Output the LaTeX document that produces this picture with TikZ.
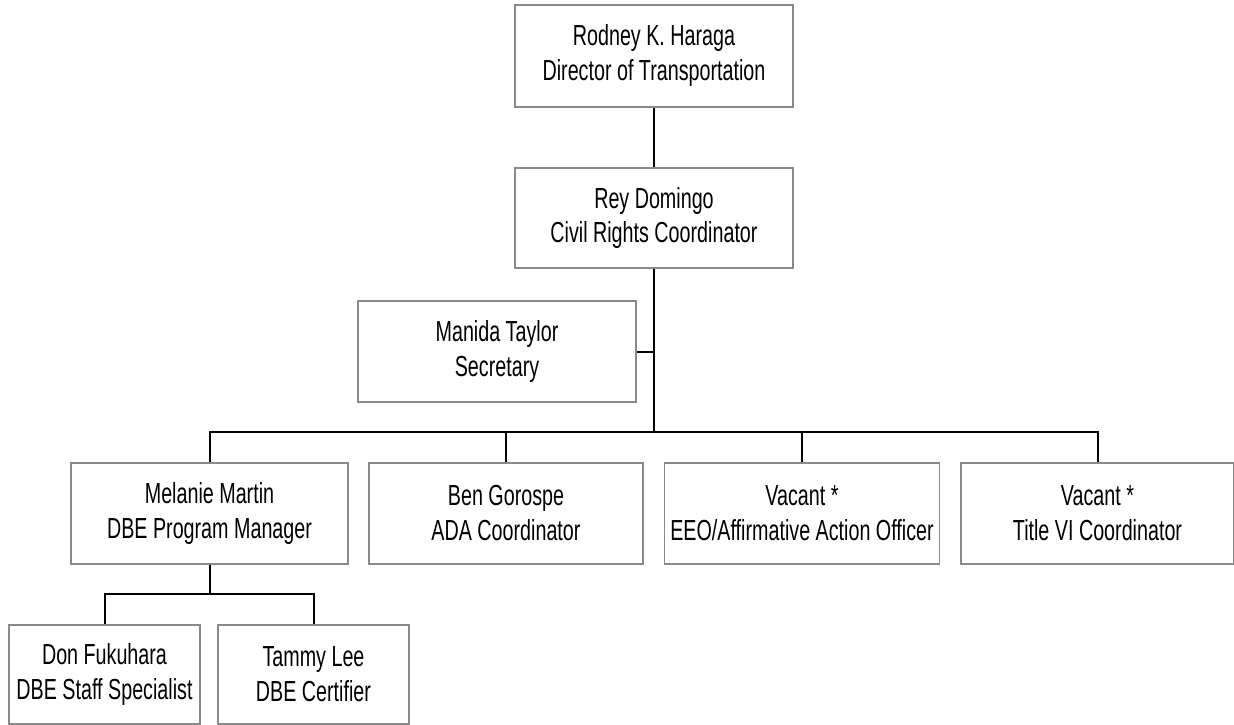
\documentclass[tikz,border=0pt]{standalone}
\usepackage{fontspec}
\setmainfont{Liberation Sans}[FakeStretch=0.68]
\definecolor{boxgray}{HTML}{8A8A8A}
\begin{document}
\begin{tikzpicture}[x=1pt,y=-1pt,
  box/.style={draw=boxgray, line width=1.8pt, minimum height=101pt, inner sep=0pt, align=center, font=\fontsize{29}{35}\selectfont},
  conn/.style={line width=2pt, black}]
\useasboundingbox (0,0) rectangle (1234,725);
\node[box, minimum width=278pt, minimum height=102pt] (top) at (654,56) {Rodney K. Haraga\\Director of Transportation};
\node[box, minimum width=278pt, minimum height=100pt] (crc) at (654,218) {Rey Domingo\\Civil Rights Coordinator};
\node[box, minimum width=278pt] (sec) at (497,351.5) {Manida Taylor\\Secretary};
\node[box, minimum width=277pt] (mm) at (209.5,513.5) {Melanie Martin\\DBE Program Manager};
\node[box, minimum width=274pt] (bg) at (506,513.5) {Ben Gorospe\\ADA Coordinator};
\node[box, minimum width=275pt] (v1) at (802,513.5) {Vacant *\\EEO/Affirmative Action Officer};
\node[box, minimum width=273pt] (v2) at (1097.5,513.5) {Vacant *\\Title VI Coordinator};
\node[box, minimum width=191pt, minimum height=99pt] (don) at (104.5,674.5) {Don Fukuhara\\DBE Staff Specialist};
\node[box, minimum width=191pt, minimum height=99pt] (tam) at (313.5,674.5) {Tammy Lee\\DBE Certifier};
\coordinate (bus) at (654,432);
\coordinate (sub) at (209.5,594);
\draw[conn] (top.south) -- (crc.north);
\draw[conn] (crc.south) -- (bus);
\draw[conn] (sec.east) -- (sec.east -| crc.south);
\draw[conn] (mm.north) |- (bus) -| (v2.north);
\draw[conn] (bg.north) -- (bg.north |- bus);
\draw[conn] (v1.north) -- (v1.north |- bus);
\draw[conn] (mm.south) -- (sub);
\draw[conn] (don.north) |- (sub) -| (tam.north);
\end{tikzpicture}
\end{document}
